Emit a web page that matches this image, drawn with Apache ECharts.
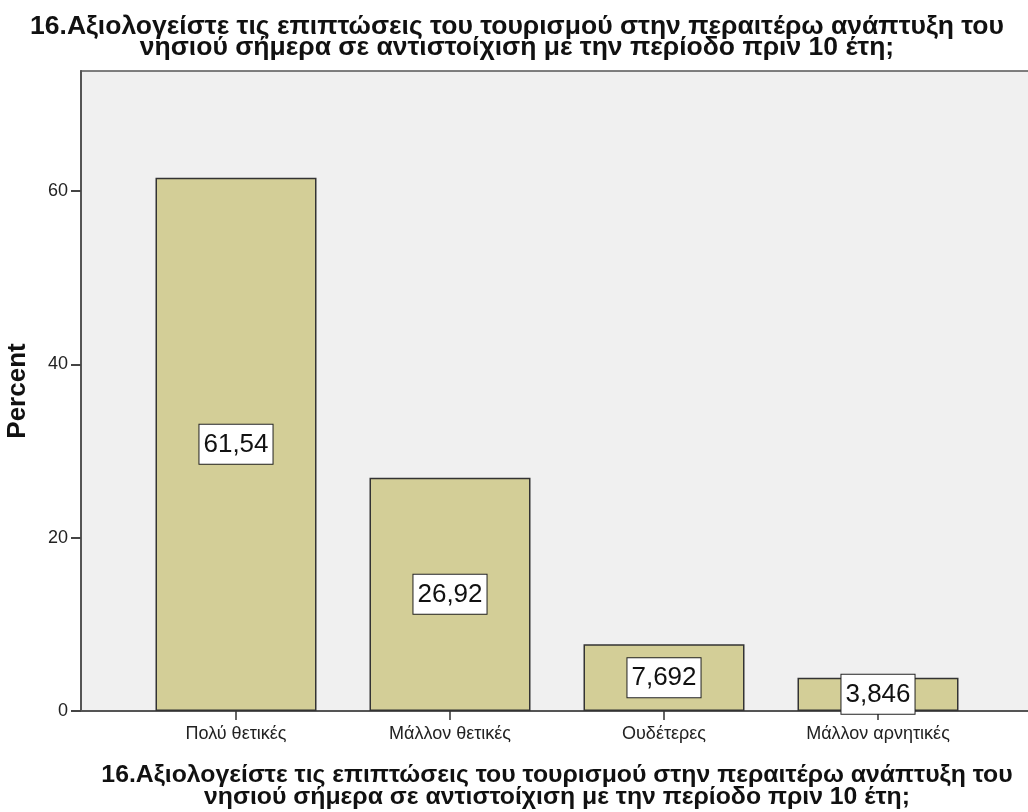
<!DOCTYPE html>
<html>
<head>
<meta charset="utf-8">
<script src="https://cdn.jsdelivr.net/npm/echarts@6/dist/echarts.min.js"></script>
<style>
  html, body { margin: 0; padding: 0; background: #fff; }
  #chart { width: 1028px; height: 812px; }
</style>
</head>
<body>
<div id="chart"></div>
<script>
const TITLE = '16.Αξιολογείστε τις επιπτώσεις του τουρισμού στην περαιτέρω ανάπτυξη του\nνησιού σήμερα σε αντιστοίχιση με την περίοδο πριν 10 έτη;';
const categories = ['Πολύ θετικές', 'Μάλλον θετικές', 'Ουδέτερες', 'Μάλλον αρνητικές'];
const percents = [61.54, 26.92, 7.692, 3.846];
const yTicks = { min: 0, max: 73.85, interval: 20 };

const FONT = '"Liberation Sans", Arial, sans-serif';

function initChart() {
  const chart = echarts.init(document.getElementById('chart'));

  const option = {
    backgroundColor: '#fff',
    animation: false,
    title: {
      text: TITLE,
      left: 512,
      top: 11,
      textAlign: 'center',
      textStyle: { fontFamily: FONT, fontSize: 26.5, fontWeight: 'bold', color: '#111', lineHeight: 21 }
    },
    grid: [
      // frame + y axis
      { left: 81, right: -5, top: 71, bottom: 101, outerBoundsMode: 'none', containLabel: false,
        show: true, backgroundColor: '#f0f0f0', borderColor: '#555', borderWidth: 1.5 },
      // bars
      { left: 129, right: 43, top: 71, bottom: 101, outerBoundsMode: 'none', containLabel: false }
    ],
    xAxis: [
      {
        gridIndex: 0, type: 'value', min: 0, max: 1,
        axisLine: { show: true, lineStyle: { color: '#555', width: 2 } },
        axisTick: { show: false }, axisLabel: { show: false }, splitLine: { show: false },
        name: TITLE, nameLocation: 'middle', nameGap: 53,
        nameTextStyle: { fontFamily: FONT, fontSize: 24.8, fontWeight: 'bold', color: '#111', lineHeight: 22 }
      },
      {
        gridIndex: 1, type: 'category', data: categories, boundaryGap: true,
        axisLine: { show: false },
        axisTick: { show: true, alignWithLabel: true, length: 9, lineStyle: { color: '#333', width: 1.5 } },
        axisLabel: { margin: 14, fontFamily: FONT, fontSize: 18, color: '#222' }
      }
    ],
    yAxis: [
      {
        gridIndex: 0, type: 'value', min: yTicks.min, max: yTicks.max, interval: yTicks.interval,
        axisLine: { show: true, lineStyle: { color: '#555', width: 2 } },
        axisTick: { show: true, length: 10, lineStyle: { color: '#444', width: 2 } },
        axisLabel: { margin: 13, fontFamily: FONT, fontSize: 18, color: '#222', showMaxLabel: false },
        splitLine: { show: false },
        name: 'Percent', nameLocation: 'middle', nameGap: 50,
        nameTextStyle: { fontFamily: FONT, fontSize: 26, fontWeight: 'bold', color: '#111' }
      },
      {
        gridIndex: 1, type: 'value', min: yTicks.min, max: yTicks.max, show: false
      }
    ],
    series: [{
      type: 'bar',
      xAxisIndex: 1,
      yAxisIndex: 1,
      data: percents,
      barWidth: 161,
      itemStyle: { color: '#d3ce97', borderColor: '#333', borderWidth: 1.5 },
      label: {
        show: true,
        position: 'inside',
        formatter: p => String(p.value).replace('.', ','),
        fontFamily: FONT,
        fontSize: 26,
        color: '#111',
        backgroundColor: '#fff',
        borderColor: '#222',
        borderWidth: 1,
        padding: [8, 4, 5, 4]
      }
    }]
  };

  chart.setOption(option);
}

window.addEventListener('DOMContentLoaded', initChart);
</script>
</body>
</html>
